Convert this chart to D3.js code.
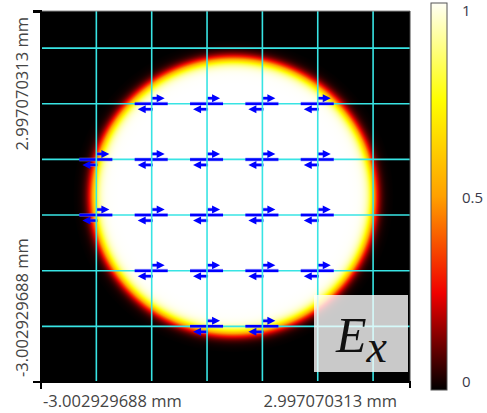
<!DOCTYPE html>
<html><head><meta charset="utf-8">
<script src="https://cdn.jsdelivr.net/npm/d3@7"></script>
<style>body{margin:0;background:#fff;} svg{display:block}</style>
</head><body>
<svg id="chart" width="487" height="413"></svg>
<script>
// ---- data ----
const xDomain = [-3.002929688, 2.997070313];
const yDomain = [-3.002929688, 2.997070313];
const xTickLabels = ["-3.002929688 mm", "2.997070313 mm"];
const yTickLabels = ["-3.002929688 mm", "2.997070313 mm"];
const gridX = [-2.103, -1.203, -0.303, 0.597, 1.497, 2.397];
const gridY = [-2.103, -1.203, -0.303, 0.597, 1.497, 2.397];
const arrowRowsY = [1.497, 0.597, -0.303, -1.203, -2.103];
const arrowRowsX = [
  [-1.203, -0.303, 0.597, 1.497],
  [-2.103, -1.203, -0.303, 0.597, 1.497],
  [-2.103, -1.203, -0.303, 0.597, 1.497],
  [-1.203, -0.303, 0.597, 1.497],
  [-0.303, 0.597]
];
const discCenter = [0.125, 0.0];     // mm
const discRadius = [2.29, 2.22];     // mm (half-intensity)
const colorStops = [0, 0.25, 0.5, 0.75, 1];
const colorValues = ["#000000", "#f00000", "#ffa000", "#ffff00", "#ffffff"];
const colorbarTicks = [0, 0.5, 1];
const colorbarTickLabels = ["0", "0.5", "1"];
const fieldLabel = "E";
const fieldSub = "x";

// ---- layout ----
const svg = d3.select("#chart");
const L = 41, R = 410, T = 11, B = 382;
const x = d3.scaleLinear().domain(xDomain).range([L, R]);
const y = d3.scaleLinear().domain(yDomain).range([B, T]);
const color = d3.scaleLinear().domain(colorStops).range(colorValues);
const defs = svg.append("defs");

// background
svg.append("rect").attr("x", L).attr("y", T).attr("width", R - L).attr("height", B - T).attr("fill", "#000");

// disc with soft edge
const rxPx = x(discCenter[0] + discRadius[0]) - x(discCenter[0]);
const ryPx = y(discCenter[1]) - y(discCenter[1] + discRadius[1]);
const edge = 3.2; // px softness
const outerPx = rxPx + 6 * edge;
const rg = defs.append("radialGradient").attr("id", "disc");
const profile = d3.range(0, 1.0001, 0.01);
rg.selectAll("stop").data(profile).join("stop")
  .attr("offset", d => d)
  .attr("stop-color", d => {
    const dpx = d * outerPx - rxPx;
    const v = 1 / (1 + Math.exp(dpx / edge));
    return color(Math.max(0, Math.min(1, v)));
  });
svg.append("ellipse")
  .attr("cx", x(discCenter[0])).attr("cy", y(discCenter[1]))
  .attr("rx", outerPx).attr("ry", outerPx * ryPx / rxPx)
  .attr("fill", "url(#disc)");

// clip
defs.append("clipPath").attr("id", "plotclip").append("rect")
  .attr("x", L).attr("y", T).attr("width", R - L).attr("height", B - T);
const g = svg.append("g").attr("clip-path", "url(#plotclip)");

const gridColor = "#38e4e4";
// horizontal grid
g.selectAll("line.h").data(gridY).join("line").attr("class", "h")
  .attr("x1", L).attr("x2", R).attr("y1", d => y(d)).attr("y2", d => y(d))
  .attr("stroke", gridColor).attr("stroke-width", 1.6);

// arrows
const arrows = [];
arrowRowsY.forEach((yy, i) => arrowRowsX[i].forEach(xx => arrows.push([xx, yy])));
const ag = g.selectAll("g.arrow").data(arrows).join("g").attr("class", "arrow")
  .attr("transform", d => `translate(${x(d[0])},${y(d[1])})`);
const blue = "#0000ff";
// halo
ag.append("path").attr("d", "M-17,0H16 M0,-5.5H8 M1,5.5H-8")
  .attr("stroke", "#8080ff").attr("stroke-width", 4).attr("opacity", 0.45).attr("fill", "none");
ag.append("path").attr("d", "M-17,0H16").attr("stroke", blue).attr("stroke-width", 2.5);
ag.append("path").attr("d", "M0,-5.5H7").attr("stroke", blue).attr("stroke-width", 2.5);
ag.append("path").attr("d", "M5,-9.5L13,-5.5L5,-1.5Z").attr("fill", blue);
ag.append("path").attr("d", "M1,5.5H-7").attr("stroke", blue).attr("stroke-width", 2.5);
ag.append("path").attr("d", "M-6,1.5L-14,5.5L-6,9.5Z").attr("fill", blue);

// vertical grid
g.selectAll("line.v").data(gridX).join("line").attr("class", "v")
  .attr("y1", T).attr("y2", B).attr("x1", d => x(d)).attr("x2", d => x(d))
  .attr("stroke", gridColor).attr("stroke-width", 1.6);

// field label box
svg.append("rect").attr("x", 314).attr("y", 295).attr("width", 94).attr("height", 77)
  .attr("fill", "#ffffff").attr("opacity", 0.79);
const lab = svg.append("text").attr("x", 336).attr("y", 352)
  .attr("font-family", "'Liberation Serif', 'DejaVu Serif', serif").attr("font-style", "italic")
  .attr("font-size", 50).attr("fill", "#111");
lab.append("tspan").text(fieldLabel);
lab.append("tspan").attr("dy", 10).attr("font-size", 46).text(fieldSub);

// frame
svg.append("line").attr("x1", L).attr("x2", R).attr("y1", T).attr("y2", T).attr("stroke", "#8a8a8a").attr("stroke-width", 1);
svg.append("line").attr("x1", R).attr("x2", R).attr("y1", T).attr("y2", B).attr("stroke", "#444").attr("stroke-width", 1);
// left axis
svg.append("line").attr("x1", L).attr("x2", L).attr("y1", T - 1).attr("y2", B + 1).attr("stroke", "#000").attr("stroke-width", 2);
svg.append("rect").attr("x", 33).attr("y", T - 1).attr("width", 8).attr("height", 3).attr("fill", "#000");
// bottom axis
svg.append("line").attr("x1", 33).attr("x2", R + 1).attr("y1", B).attr("y2", B).attr("stroke", "#000").attr("stroke-width", 2);
svg.append("line").attr("x1", L).attr("x2", L).attr("y1", B).attr("y2", B + 7).attr("stroke", "#000").attr("stroke-width", 2);
svg.append("line").attr("x1", R).attr("x2", R).attr("y1", B).attr("y2", B + 6).attr("stroke", "#000").attr("stroke-width", 2);

// axis labels
const font = "'Open Sans', 'Noto Sans', sans-serif";
const txtColor = "#444";
svg.append("text").attr("x", x(xDomain[0]) + 2).attr("y", 407).attr("text-anchor", "start")
  .attr("font-family", font).attr("font-size", 16.5).attr("fill", txtColor).text(xTickLabels[0]);
svg.append("text").attr("x", x(xDomain[1]) - 13).attr("y", 407).attr("text-anchor", "end")
  .attr("font-family", font).attr("font-size", 16.5).attr("fill", txtColor).text(xTickLabels[1]);
svg.append("text").attr("transform", `translate(28,${y(yDomain[0]) - 5}) rotate(-90)`).attr("text-anchor", "start")
  .attr("font-family", font).attr("font-size", 16.5).attr("fill", txtColor).text(yTickLabels[0]);
svg.append("text").attr("transform", `translate(28,${y(yDomain[1]) + 6}) rotate(-90)`).attr("text-anchor", "end")
  .attr("font-family", font).attr("font-size", 16.5).attr("fill", txtColor).text(yTickLabels[1]);

// colorbar
const cbX = 431, cbW = 16, cbT = 3, cbB = 390;
const cy = d3.scaleLinear().domain([0, 1]).range([cbB, cbT]);
const lg = defs.append("linearGradient").attr("id", "cb").attr("x1", 0).attr("y1", 1).attr("x2", 0).attr("y2", 0);
lg.selectAll("stop").data(colorStops).join("stop")
  .attr("offset", d => d).attr("stop-color", d => d === 1 ? "#fffff4" : color(d));
svg.append("rect").attr("x", cbX).attr("y", cbT).attr("width", cbW).attr("height", cbB - cbT)
  .attr("fill", "url(#cb)").attr("stroke", "#555").attr("stroke-width", 1);
svg.selectAll("text.cbt").data(colorbarTicks).join("text").attr("class", "cbt")
  .attr("x", 462).attr("y", d => cy(d) + 6 + (d === 1 ? 7 : d === 0 ? -9 : 0))
  .attr("font-family", font).attr("font-size", 15).attr("fill", "#3a3a4a")
  .text((d, i) => colorbarTickLabels[i]);
</script>
</body></html>
